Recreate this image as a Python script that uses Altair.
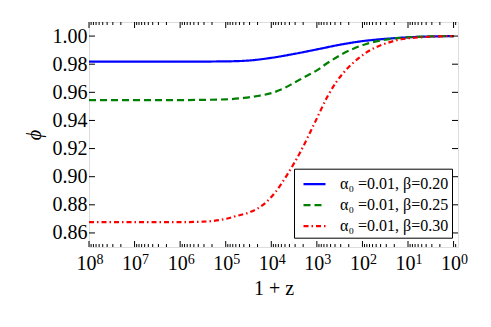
import altair as alt
import pandas as pd

labels = ["α₀ =0.01, β=0.20", "α₀ =0.01, β=0.25", "α₀ =0.01, β=0.30"]
colors = ["#0000ff", "#008000", "#ff0000"]

# log10(1+z) positions and phi values
blue_lg = [8, 6, 5, 4.5, 4, 3.5, 3, 2.5, 2, 1.5, 1, 0.5, 0]
blue_phi = [0.9818, 0.9818, 0.9820, 0.9826, 0.9845, 0.9873, 0.9905, 0.9938, 0.9964, 0.9980, 0.9991, 0.9997, 1.0]

green_lg = [8, 6, 5, 4.6, 4.3, 4, 3.7, 3.5, 3.25, 3, 2.75, 2.5, 2.2, 1.9, 1.5, 1, 0.5, 0]
green_phi = [0.9545, 0.9545, 0.9550, 0.9560, 0.9574, 0.9594, 0.9632, 0.9668, 0.9712, 0.9756, 0.9812, 0.9862, 0.9910, 0.9945, 0.9974, 0.9991, 0.9998, 1.0]

red_lg = [8, 6, 5.5, 5, 4.75, 4.45, 4.16, 3.91, 3.62, 3.36, 3.06, 2.75, 2.57, 2.35, 2.09, 1.8, 1.48, 1.12, 0.68, 0]
red_phi = [0.8677, 0.8677, 0.8680, 0.8700, 0.8722, 0.8750, 0.8805, 0.8890, 0.9030, 0.9177, 0.9374, 0.9580, 0.9675, 0.9763, 0.9841, 0.9905, 0.9948, 0.9979, 0.9992, 1.0]

y_ticks = [0.86, 0.88, 0.90, 0.92, 0.94, 0.96, 0.98, 1.00]
x_major = [1, 10, 100, 1e3, 1e4, 1e5, 1e6, 1e7, 1e8]
x_exponents = ["0", "1", "2", "3", "4", "5", "6", "7", "8"]
x_minor = [0.9] + [k * 10 ** n for n in range(8) for k in range(2, 10)]

W, H = 369, 225
FONT = "Liberation Serif"

rows = []
for lab, lgs, phis in zip(labels, [blue_lg, green_lg, red_lg], [blue_phi, green_phi, red_phi]):
    for a, b in zip(lgs, phis):
        rows.append({"label": lab, "lg": a, "phi": b})
df = pd.DataFrame(rows)

xscale = alt.Scale(type="log", domain=[0.8, 1e8], reverse=True, nice=False)
yscale = alt.Scale(domain=[0.85, 1.01], nice=False, zero=False)

xaxis = alt.Axis(
    values=x_major, ticks=False, domain=False, grid=False, labels=False,
    title="1 + z", titleFont=FONT, titleFontSize=20, titleFontWeight="normal",
    titleColor="black", titlePadding=31)
yaxis = alt.Axis(
    values=y_ticks, format=".2f", ticks=False, domain=False, grid=False,
    labelOverlap=False, labelFlush=False,
    labelFont=FONT, labelFontSize=20, labelPadding=2, labelColor="black",
    title="ϕ", titleFont=FONT, titleFontSize=20, titleFontStyle="italic",
    titleFontWeight="normal", titleColor="black", titlePadding=8)

legend = alt.Legend(
    title=None, orient="none", legendX=205, legendY=146.7,
    fillColor="white", strokeColor="black", padding=3, cornerRadius=0,
    symbolType="stroke", symbolSize=484, symbolStrokeWidth=2.2, symbolOffset=5,
    labelFont=FONT, labelFontSize=16, labelOffset=13, rowPadding=0,
    labelLimit=300, labelColor="black",
)

lines = alt.Chart(df).transform_calculate(
    z1="pow(10, datum.lg)"
).mark_line(strokeWidth=2.2, interpolate="monotone").encode(
    x=alt.X("z1:Q", scale=xscale, axis=xaxis),
    y=alt.Y("phi:Q", scale=yscale, axis=yaxis),
    color=alt.Color("label:N", scale=alt.Scale(domain=labels, range=colors), legend=legend),
    strokeDash=alt.StrokeDash("label:N", scale=alt.Scale(domain=labels, range=[[1, 0], [7, 4], [5, 3, 1.5, 3]]), legend=legend),
    order=alt.Order("lg:Q", sort="descending"),
)

ydf = pd.DataFrame({"phi": y_ticks})
xmaj = pd.DataFrame({"z1": x_major})
xmin = pd.DataFrame({"z1": x_minor})
xexp = pd.DataFrame({"z1": x_major, "e": x_exponents})

def yrule(x0, x1):
    return alt.Chart(ydf).mark_rule(color="black", strokeWidth=1).encode(
        y=alt.Y("phi:Q", scale=yscale, axis=yaxis), x=alt.value(x0), x2=alt.value(x1))

def xrule(data, y0, y1):
    return alt.Chart(data).mark_rule(color="black", strokeWidth=1).encode(
        x=alt.X("z1:Q", scale=xscale, axis=xaxis), y=alt.value(y0), y2=alt.value(y1))

tens = alt.Chart(xexp).mark_text(
    align="center", baseline="alphabetic", dx=-2.5, font=FONT, fontSize=20, color="black"
).encode(x=alt.X("z1:Q", scale=xscale, axis=xaxis), y=alt.value(H + 23), text=alt.value("10"))

exps = alt.Chart(xexp).mark_text(
    align="left", baseline="alphabetic", dx=7.5, font=FONT, fontSize=14, color="black"
).encode(x=alt.X("z1:Q", scale=xscale, axis=xaxis), y=alt.value(H + 17), text="e:N")

chart = alt.layer(
    lines,
    yrule(0, 6), yrule(W - 6, W),
    xrule(xmaj, H - 6, H), xrule(xmaj, 0, 6),
    xrule(xmin, H - 3, H), xrule(xmin, 0, 3),
    tens, exps,
).properties(
    width=W, height=H,
    autosize=alt.AutoSizeParams(type="none"),
    padding={"left": 81, "top": 14, "right": 25, "bottom": 72},
).configure_view(stroke="black", strokeWidth=1.2).configure(background="white")

chart.save("out.html", embed_options={"renderer": "svg", "actions": False})
